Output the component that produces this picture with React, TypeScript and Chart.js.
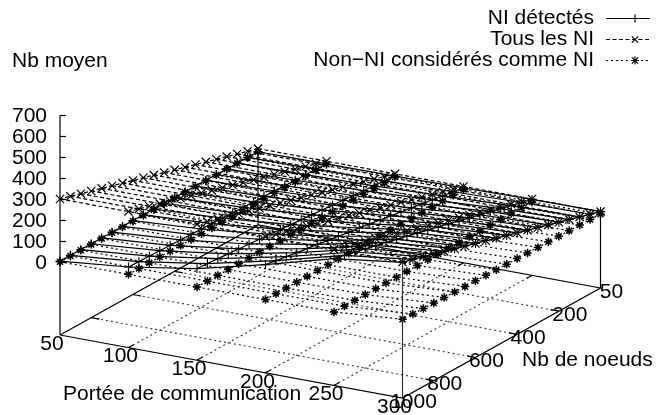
import { useEffect, useRef } from "react";
import { Chart, registerables } from "chart.js";

Chart.register(...registerables);

const FONT = '"Liberation Sans", Arial, sans-serif';

// Portée de communication (one row per value) and Nb de noeuds (one column per value)
const portees = [50, 100, 150, 200, 250, 300];
const noeuds = [50, 100, 150, 200, 250, 300, 350, 400, 450, 500, 550, 600, 650, 700, 750, 800, 850, 900, 950, 1000];

const detectes50 = [0, 1, 1, 1, 2, 2, 2, 2, 2, 3, 3, 3, 3, 3, 3, 3, 3, 3, 3, 3];
const detectes100 = [2, 4, 6, 7, 9, 11, 13, 14, 16, 18, 20, 21, 23, 25, 26, 28, 30, 32, 33, 35];
const detectes150 = [4, 9, 13, 18, 22, 27, 31, 36, 40, 45, 49, 54, 58, 62, 67, 71, 75, 80, 84, 88];
const detectes200 = [8, 17, 25, 34, 42, 51, 59, 68, 76, 85, 93, 101, 109, 117, 125, 133, 141, 150, 158, 167];
const detectes250 = [13, 26, 39, 52, 65, 78, 91, 104, 117, 130, 143, 156, 169, 182, 195, 208, 220, 232, 244, 256];
const detectes300 = [15, 30, 45, 60, 75, 90, 105, 120, 135, 150, 165, 180, 195, 210, 225, 240, 255, 270, 285, 298];

const tous = [15, 30, 45, 60, 75, 90, 105, 120, 135, 150, 165, 180, 195, 210, 225, 240, 255, 270, 285, 300];

const nonNi50 = [0, 0, 0, 0, 0, 0, 0, 0, 0, 0, 0, 0, 0, 0, 0, 0, 0, 0, 0, 0];
const nonNi100 = [0, 0, 0, 0, 0, 0, 0, 0, 0, 0, 0, 0, 0, 0, 0, 0, 0, 0, 0, 0];
const nonNi150 = [0, 0, 0, 0, 0, 0, 0, 0, 0, 0, 0, 0, 0, 0, 0, 0, 0, 0, 0, 0];
const nonNi200 = [0, 0, 0, 0, 0, 0, 0, 0, 0, 0, 0, 0, 0, 0, 0, 0, 0, 0, 0, 0];
const nonNi250 = [1, 1, 1, 1, 1, 1, 1, 1, 1, 1, 1, 1, 1, 1, 1, 1, 1, 1, 1, 1];
const nonNi300 = [3, 5, 6, 7, 8, 9, 10, 11, 12, 13, 14, 15, 16, 17, 18, 20, 21, 22, 24, 26];

const detectes = [detectes50, detectes100, detectes150, detectes200, detectes250, detectes300];
const tousNi = [tous, tous, tous, tous, tous, tous];
const nonNi = [nonNi50, nonNi100, nonNi150, nonNi200, nonNi250, nonNi300];

const zTicks = [0, 100, 200, 300, 400, 500, 600, 700];
const xTicks = [50, 100, 150, 200, 250, 300];
const yTickPos = [0, 200, 400, 600, 800, 950];
const yTickLabels = ["50", "200", "400", "600", "800", "1000"];

const legendLabels = ["NI détectés", "Tous les NI", "Non\u2212NI considérés comme NI"];
const zTitle = "Nb moyen";
const xTitle = "Portée de communication";
const yTitle = "Nb de noeuds";

// 3D view: x = portée, y = position on the nodes axis, z = value
const BASE_Z = -350;
function project(x: number, y: number, z: number) {
  const fx = (x - 50) / 250;
  const fy = (950 - y) / 950;
  return {
    x: 60 + fx * 342.5 + fy * 198,
    y: 335 + fx * 63 - fy * 110 - (z - BASE_Z) * 0.2093,
  };
}
const node = (n: number) => n - 50;

type Style = { dash: number[]; point: string | false; radius: number; pw: number };
const STYLES: Style[] = [
  { dash: [], point: "cross", radius: 4.5, pw: 1.1 },
  { dash: [4, 2.5], point: "crossRot", radius: 5.8, pw: 1.2 },
  { dash: [2, 3], point: "star", radius: 4.2, pw: 1.5 },
];
const LW = 1.2;

function lineDs(data: { x: number; y: number }[], color: string, width: number, dash: number[]) {
  return { data, borderColor: color, borderWidth: width, borderDash: dash, pointRadius: 0, showLine: true, tension: 0, fill: false };
}

function buildDatasets() {
  const out: any[] = [];
  // base grid
  const gc = "rgba(0,0,0,0.8)";
  for (const x of xTicks.slice(1, -1))
    out.push(lineDs([project(x, 950, BASE_Z), project(x, 0, BASE_Z)], gc, 1.1, [2, 3]));
  for (const y of yTickPos.slice(1, -1))
    out.push(lineDs([project(50, y, BASE_Z), project(300, y, BASE_Z)], gc, 1.1, [2, 3]));
  // ticks
  for (const x of xTicks.slice(1, -1)) {
    out.push(lineDs([project(x, 950, BASE_Z), project(x, 925, BASE_Z)], "#000", LW, []));
    out.push(lineDs([project(x, 0, BASE_Z), project(x, 25, BASE_Z)], "#000", LW, []));
  }
  for (const y of yTickPos.slice(1, -1)) {
    out.push(lineDs([project(50, y, BASE_Z), project(56, y, BASE_Z)], "#000", LW, []));
    out.push(lineDs([project(300, y, BASE_Z), project(294, y, BASE_Z)], "#000", LW, []));
  }
  // border
  out.push(lineDs([project(50, 950, BASE_Z), project(300, 950, BASE_Z), project(300, 0, BASE_Z), project(50, 0, BASE_Z), project(50, 950, BASE_Z)], "#000", LW, []));
  out.push(lineDs([project(50, 950, BASE_Z), project(50, 950, 700)], "#000", LW, []));
  out.push(lineDs([project(50, 0, BASE_Z), project(50, 0, tous[0])], "#000", LW, []));
  out.push(lineDs([project(300, 0, BASE_Z), project(300, 0, tous[0])], "#000", LW, []));
  out.push(lineDs([project(300, 950, BASE_Z), project(300, 950, tous[19])], "#333", LW, []));
  // surfaces
  [detectes, tousNi, nonNi].forEach((surface, s) => {
    const st = STYLES[s];
    portees.forEach((p, i) => {
      const data = noeuds.map((n, j) => project(p, node(n), surface[i][j]));
      out.push({
        data, borderColor: "#000", borderWidth: LW, borderDash: st.dash, showLine: true, tension: 0, fill: false,
        pointStyle: st.point, pointRadius: st.radius, pointBorderColor: "#000", pointBorderWidth: st.pw, pointBackgroundColor: "transparent",
      });
    });
    noeuds.forEach((n, j) => {
      const data = portees.map((p, i) => project(p, node(n), surface[i][j]));
      out.push(lineDs(data, "#000", LW, st.dash));
    });
  });
  return out;
}

const textPlugin = {
  id: "labels3d",
  afterDatasetsDraw(chart: any) {
    const ctx = chart.ctx as CanvasRenderingContext2D;
    ctx.save();
    ctx.fillStyle = "#000";
    ctx.font = `21px ${FONT}`;
    ctx.textBaseline = "middle";

    // z axis ticks and labels
    ctx.textAlign = "right";
    zTicks.forEach((z) => {
      const p = project(50, 950, z);
      ctx.fillText(String(z), p.x - 13, p.y + 1);
      ctx.beginPath();
      ctx.strokeStyle = "#000";
      ctx.lineWidth = 1.2;
      ctx.moveTo(p.x, Math.round(p.y) + 0.5);
      ctx.lineTo(p.x + 6, Math.round(p.y) + 0.5);
      ctx.stroke();
    });

    // x axis labels
    ctx.textAlign = "center";
    xTicks.forEach((x) => {
      const p = project(x, 950, BASE_Z);
      ctx.fillText(String(x), p.x - 8, p.y + 9);
    });
    // nodes axis labels
    yTickPos.forEach((y, i) => {
      const p = project(300, y, BASE_Z);
      ctx.fillText(yTickLabels[i], p.x + 11, p.y + 4);
    });

    ctx.textAlign = "left";
    ctx.fillText(zTitle, 12, 61);
    ctx.fillText(xTitle, 63, 394);
    ctx.fillText(yTitle, 522, 360);

    // legend
    ctx.textAlign = "right";
    legendLabels.forEach((t, i) => {
      const ly = 18 + i * 21;
      ctx.fillText(t, 594, ly);
      const yy = Math.round(ly) + 0.5;
      ctx.beginPath();
      ctx.setLineDash(STYLES[i].dash);
      ctx.moveTo(606, yy);
      ctx.lineTo(650, yy);
      ctx.stroke();
      ctx.setLineDash([]);
      ctx.beginPath();
      const c = 635, r = 4;
      if (i !== 1) { ctx.moveTo(c - r, yy); ctx.lineTo(c + r, yy); ctx.moveTo(c, yy - r); ctx.lineTo(c, yy + r); }
      if (i !== 0) { const d = r * 0.8; ctx.moveTo(c - d, yy - d); ctx.lineTo(c + d, yy + d); ctx.moveTo(c - d, yy + d); ctx.lineTo(c + d, yy - d); }
      ctx.stroke();
    });
    ctx.restore();
  },
};

export default function App() {
  const ref = useRef<HTMLCanvasElement>(null);
  useEffect(() => {
    document.body.style.margin = "0";
    document.body.style.background = "#fff";
    const chart = new Chart(ref.current!, {
      type: "scatter",
      data: { datasets: buildDatasets() },
      options: {
        animation: false,
        responsive: false,
        layout: { padding: 0, autoPadding: false },
        plugins: { legend: { display: false }, tooltip: { enabled: false }, title: { display: false } },
        scales: {
          x: { type: "linear", min: 0, max: 658, display: false },
          y: { type: "linear", min: 0, max: 415, reverse: true, display: false },
        },
      },
      plugins: [textPlugin],
    } as any);
    return () => chart.destroy();
  }, []);
  return <canvas ref={ref} width={658} height={415} style={{ display: "block", width: 658, height: 415 }} />;
}
